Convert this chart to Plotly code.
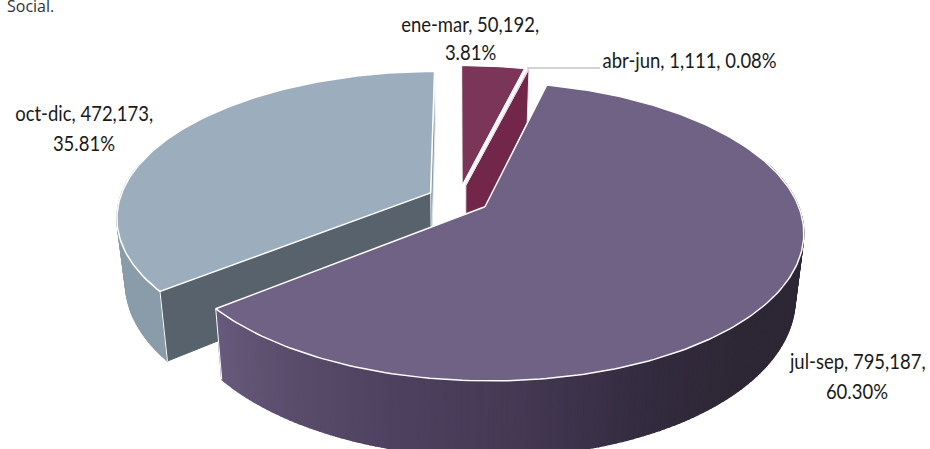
import math
import plotly.graph_objects as go

categories = ["ene-mar", "abr-jun", "jul-sep", "oct-dic"]
values = [50192, 1111, 795187, 472173]
note_text = "Social."

top_colors = ["#7a3558", "#7a3558", "#706285", "#9caebd"]
cut_colors = ["#72274a", "#72274a", "#4a3f5a", "#57626c"]
wall_stops = {
    "ene-mar": [(0, "#5e2a45"), (360, "#5e2a45")],
    "abr-jun": [(0, "#5e2a45"), (360, "#5e2a45")],
    "jul-sep": [(100, "#2d2735"), (135, "#2d2735"), (155, "#332b3f"), (175, "#443853"),
                (195, "#4e4160"), (215, "#5b4e6d"), (231, "#675a7c")],
    "oct-dic": [(225, "#8a9ca9"), (300, "#8a9ca9")],
}

W, H_PX = 930, 449
CX, CY, RX, RY, K = 458.5, 199.0, 311.0, 143.0, 0.163
EXPLODE, DEPTH, BOTTOM_SCALE = 0.10, 63.0, 0.975


def project(u, v, low=False):
    s = 1 / (1 + K * v)
    x = RX * u * s
    y = -RY * v * s
    if low:
        return CX + x * BOTTOM_SCALE, CY + y + DEPTH * s
    return CX + x, CY + y


def hex_rgb(c):
    return tuple(int(c[i:i + 2], 16) for i in (1, 3, 5))


def color_at(stops, t):
    if t <= stops[0][0]:
        return stops[0][1]
    for (a, ca), (b, cb) in zip(stops, stops[1:]):
        if t <= b:
            f = (t - a) / (b - a)
            ra, rb = hex_rgb(ca), hex_rgb(cb)
            return "#%02x%02x%02x" % tuple(round(p + (q - p) * f) for p, q in zip(ra, rb))
    return stops[-1][1]


def poly(fig, pts, fill, line=None, width=1.0, name=None):
    xs = [p[0] for p in pts] + [pts[0][0]]
    ys = [p[1] for p in pts] + [pts[0][1]]
    fig.add_trace(go.Scatter(
        x=xs, y=ys, mode="lines", fill="toself", fillcolor=fill,
        line=dict(color=line or fill, width=width),
        hoverinfo="text" if name else "skip", text=name, showlegend=False))


def edge(fig, u, v, color="#ffffff"):
    a, b = project(u, v), project(u, v, True)
    fig.add_trace(go.Scatter(x=[a[0], b[0]], y=[a[1], b[1]], mode="lines",
                             line=dict(color=color, width=1), hoverinfo="skip", showlegend=False))


total = sum(values)
slices = []
acc = 0.0
for cat, val, tc, cc in zip(categories, values, top_colors, cut_colors):
    a0 = acc / total * 360
    acc += val
    a1 = acc / total * 360
    mid = math.radians((a0 + a1) / 2)
    slices.append(dict(cat=cat, val=val, a0=a0, a1=a1, ox=EXPLODE * math.sin(mid), oy=EXPLODE * math.cos(mid), tc=tc, cc=cc))


def rim(s, deg):
    r = math.radians(deg)
    return s["ox"] + math.sin(r), s["oy"] + math.cos(r)


fig = go.Figure()


def angles_of(s):
    steps = max(2, int(s["a1"] - s["a0"]) + 1)
    return [s["a0"] + (s["a1"] - s["a0"]) * i / steps for i in range(steps + 1)]


def draw_walls(s):
    stops = wall_stops[s["cat"]]
    ang = angles_of(s)
    for a, b in zip(ang, ang[1:]):
        ua, va = rim(s, a)
        ub, vb = rim(s, b)
        if min(va, vb) > 0.25:
            continue
        c = color_at(stops, (a + b) / 2)
        poly(fig, [project(ua, va), project(ub, vb), project(ub, vb, True), project(ua, va, True)], c, width=1.3)


def draw_cut(s, deg, fill, line=None, width=1):
    u, v = rim(s, deg)
    ap = (s["ox"], s["oy"])
    poly(fig, [project(*ap), project(u, v), project(u, v, True), project(*ap, True)], fill, line=line, width=width)


def draw_top(s, line="#ffffff", width=1.5):
    ap = (s["ox"], s["oy"])
    pts = [project(*ap)] + [project(*rim(s, a)) for a in angles_of(s)]
    poly(fig, pts, s["tc"], line=line, width=width, name=f"{s['cat']}: {s['val']:,}")


ene, abr, jul, oct_ = slices
draw_top(ene, width=1)
draw_cut(abr, abr["a1"], abr["cc"], line="#f3e6ec", width=1)
draw_top(abr, line="#f3e6ec", width=0.8)

draw_walls(oct_)
draw_cut(oct_, oct_["a0"], oct_["cc"])
draw_cut(oct_, 360, "#8a9ca9", line="#dfe6ea")
draw_top(oct_)
edge(fig, *rim(oct_, oct_["a0"]))

draw_walls(jul)
draw_top(jul)
edge(fig, *rim(jul, jul["a1"]))

# leader line of abr-jun
fig.add_trace(go.Scatter(x=[527, 600], y=[68, 68], mode="lines", line=dict(color="#a6a6a6", width=1),
                         hoverinfo="skip", showlegend=False))

pct = {c: f"{v / total * 100:.2f}%" for c, v in zip(categories, values)}
val = dict(zip(categories, values))
FONT = dict(family="Lato, 'Liberation Sans', sans-serif", size=22, color="#1a1a1a")
labels = [
    (470, 23, f"ene-mar, {val['ene-mar']:,},"),
    (470, 51, pct["ene-mar"]),
    (689.5, 59, f"abr-jun, {val['abr-jun']:,}, {pct['abr-jun']}"),
    (84, 112, f"oct-dic, {val['oct-dic']:,},"),
    (84, 142, pct["oct-dic"]),
    (857, 360, f"jul-sep, {val['jul-sep']:,},"),
    (857, 390, pct["jul-sep"]),
]
annotations = [dict(x=x, y=y, text=t, xanchor="center", yanchor="middle", showarrow=False, font=FONT) for x, y, t in labels]
annotations.append(dict(x=5, y=6, text=note_text, xanchor="left", yanchor="middle", showarrow=False,
                        font=dict(family="'Open Sans', sans-serif", size=16, color="#333333")))

fig.update_layout(
    width=W, height=H_PX, margin=dict(l=0, r=0, t=0, b=0), paper_bgcolor="#ffffff", plot_bgcolor="#ffffff",
    showlegend=False, annotations=annotations,
    xaxis=dict(range=[0, W], visible=False, fixedrange=True),
    yaxis=dict(range=[H_PX, 0], visible=False, fixedrange=True),
)

# Remove the page margin and narrow the label glyphs (the reference uses a condensed face).
POST = """
document.body.style.margin = '0';
document.body.style.overflow = 'hidden';
document.querySelectorAll('.annotation-text').forEach(function (t) {
  if (t.textContent.indexOf('Social') >= 0) return;
  var len = t.getComputedTextLength();
  t.setAttribute('textLength', (len * 0.84).toFixed(1));
  t.setAttribute('lengthAdjust', 'spacingAndGlyphs');
});
"""
fig.write_html("out.html", config=dict(displayModeBar=False), post_script=POST)
